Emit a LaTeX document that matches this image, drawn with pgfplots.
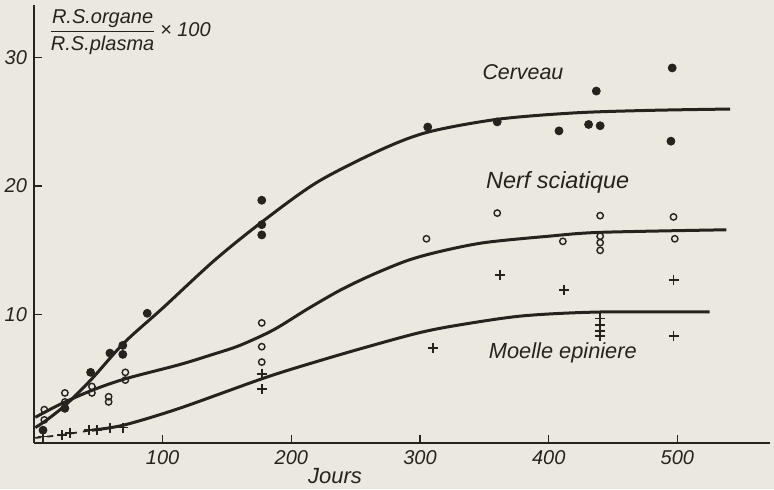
\documentclass[border=0pt]{standalone}
\usepackage{pgfplots}
\pgfplotsset{compat=1.18}
\usepackage{fontspec}
\setmainfont{Liberation Sans}
\definecolor{bg}{HTML}{EBE8E0}
\definecolor{ink}{HTML}{26221E}
\begin{document}
\begin{tikzpicture}[x=1pt,y=1pt]
\fill[bg] (0,0) rectangle (387,244.5);
\useasboundingbox (0,0) rectangle (387,244.5);
\begin{axis}[
  at={(17pt,23pt)}, anchor=south west,
  scale only axis, width=368pt, height=219pt,
  xmin=0, xmax=572, ymin=0, ymax=34.1,
  axis lines=left, axis line style={ink, line width=0.8pt, -},
  xtick={100,200,300,400,500}, ytick={10,20,30},
  tick style={ink, line width=0.7pt},
  tick align=inside, major tick length=4pt,
  ticklabel style={font=\itshape\normalsize, text=ink},
  /pgf/number format/assume math mode=true,
  clip=false,
]
% curves
\addplot[ink, line width=1.5pt, smooth, tension=0.5] coordinates {
 (1,1.2) (10,1.8) (25,3.0) (45,5.0) (70,7.8) (100,10.5) (140,14.2) (177,17.2)
 (220,20.3) (269,22.8) (306,24.2) (360,25.2) (420,25.7) (480,25.9) (541,26.0)};
\addplot[ink, line width=1.5pt, smooth, tension=0.5] coordinates {
 (1,2.0) (20,3.0) (45,4.1) (71,5.0) (113,6.1) (139,6.9) (160,7.6) (186,8.8) (212,10.4)
 (238,11.9) (263,13.1) (290,14.2) (315,14.9) (350,15.6) (400,16.1) (440,16.4) (538,16.6)};
\addplot[ink, line width=0.9pt, dashed] coordinates {
 (1,0.4) (20,0.6) (45,1.0)};
\addplot[ink, line width=1.5pt, smooth, tension=0.5] coordinates {
 (45,1.0) (70,1.4) (113,2.7) (180,5.1) (225,6.5) (263,7.6) (300,8.6) (331,9.2) (380,9.9) (440,10.2) (525,10.2)};
% Cerveau
\addplot[only marks, mark=*, mark size=2pt, ink] coordinates {
 (7,1.0) (24,2.7) (44,5.5) (59,7.0) (69,7.6) (69,6.9) (88,10.1)
 (177,18.9) (177,17.0) (177,16.2) (306,24.6) (360,25.0) (408,24.3)
 (431,24.8) (440,24.7) (437,27.4) (496,29.2) (495,23.5)};
% Nerf sciatique
\addplot[only marks, mark=o, mark size=1.6pt, ink, mark options={line width=0.7pt}] coordinates {
 (8,2.6) (8,1.8) (24,3.9) (24,3.2) (45,4.4) (45,3.9) (58,3.6) (58,3.2)
 (71,5.5) (71,4.9) (177,9.35) (177,7.5) (177,6.3) (305,15.9) (360,17.9)
 (411,15.7) (440,17.7) (440,16.1) (440,15.6) (440,15.0) (497,17.6) (498,15.9)};
% Moelle epiniere
\addplot[only marks, mark=+, mark size=2.5pt, ink, mark options={line width=0.9pt}] coordinates {
 (7,0.5) (22,0.6) (28,0.8) (43,1.0) (49,1.0) (59,1.2) (69,1.2)
 (177,5.4) (177,4.2) (310,7.4) (362,13.1) (412,11.9)
 (440,9.7) (440,9.2) (440,8.7) (440,8.3) (497,12.7) (497,8.3)};
% labels
\node[text=ink, font=\itshape\fontsize{10.7}{13}\selectfont] at (axis cs:380,28.9) {Cerveau};
\node[text=ink, font=\itshape\fontsize{11.7}{14}\selectfont] at (axis cs:407,20.3) {Nerf sciatique};
\node[text=ink, font=\itshape\fontsize{10.9}{13}\selectfont] at (axis cs:411,7.0) {Moelle epiniere};
\node[text=ink, font=\itshape\fontsize{11}{13}\selectfont] at (axis cs:234,-2.6) {Jours};
\node[text=ink, font=\itshape, anchor=west, inner sep=0pt] at (axis cs:11,32.0)
  {$\displaystyle\frac{\textit{R.S.organe}}{\textit{R.S.plasma}}$\,× \textit{100}};
\end{axis}
\end{tikzpicture}
\end{document}
